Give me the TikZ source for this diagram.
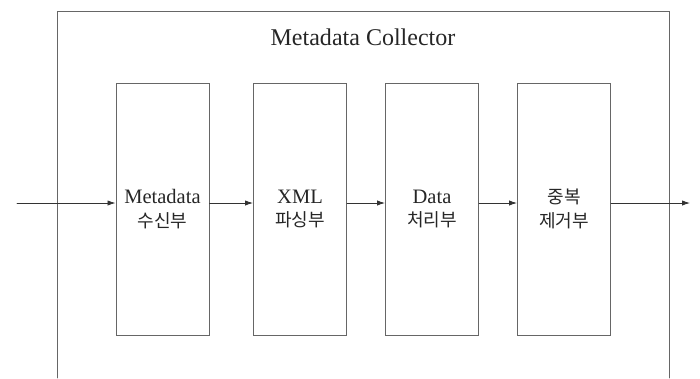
\documentclass[tikz,border=0pt]{standalone}
\usepackage{fontspec}
\setmainfont{Liberation Serif}
\newfontfamily\kr[Scale=0.88]{Noto Sans CJK KR}
\usetikzlibrary{arrows.meta}

\begin{document}
\begin{tikzpicture}[x=0.03cm,y=-0.03cm,>={Latex[length=2.4mm,width=1.6mm]},line cap=round,
  blk/.style={draw=black!60,line width=0.8pt,minimum width=2.79cm,minimum height=7.56cm,
    align=center,font=\fontsize{17.5}{20}\selectfont,text=black!85},
  flow/.style={->,line width=0.7pt,black!80}]
\useasboundingbox (0,0) rectangle (700,378);
% outer frame, open at the bottom
\draw[black!60,line width=0.8pt] (57,378) -- (57,11) -- (669,11) -- (669,378);
\node[font=\fontsize{20.5}{24}\selectfont,text=black!85] (title) at (363,37) {Metadata Collector};
\node[blk] (rcv) at (162.5,209) {Metadata\\{\kr 수신부}};
\node[blk] (xml) at (300,209) {XML\\{\kr 파싱부}};
\node[blk] (dat) at (432,209) {Data\\{\kr 처리부}};
\node[blk] (dup) at (564,209) {{\kr 중복}\\{\kr 제거부}};
\coordinate (in) at (17,203);
\coordinate (out) at (690,203);
\draw[flow] (in) -- (in -| rcv.west);
\draw[flow] (in -| rcv.east) -- (in -| xml.west);
\draw[flow] (in -| xml.east) -- (in -| dat.west);
\draw[flow] (in -| dat.east) -- (in -| dup.west);
\draw[flow] (in -| dup.east) -- (out);
\end{tikzpicture}
\end{document}
